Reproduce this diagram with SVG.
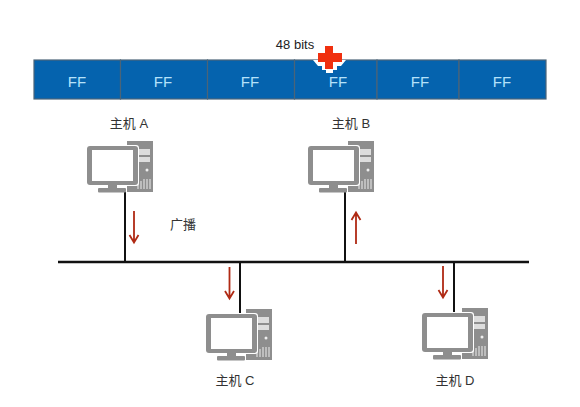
<svg xmlns="http://www.w3.org/2000/svg" width="580" height="407" viewBox="0 0 580 407">
<style>
text{font-family:"Liberation Sans","Noto Sans CJK SC",sans-serif}
.lbl{font-size:13px;fill:#333;text-anchor:middle}
.ff{font-size:15px;fill:#b5e2fa;text-anchor:middle}
.cell{fill:#0563ae;stroke:#4b6478;stroke-width:1.2}
.wire{stroke:#111;fill:none}
.arr{stroke:#b02a14;stroke-width:1.8;fill:none}
.g{fill:#8e8e8e}
</style>
<defs>
<g id="pc">
<path class="g" d="M41 0H67V51H41Z"/>
<rect x="46" y="8" width="18" height="6" fill="#ddd"/>
<rect x="46" y="16" width="18" height="5" fill="#ddd"/>
<circle cx="61" cy="29" r="1.500" fill="#eee"/>
<path d="M52 48V42M55 48V40M58 48V38M61 48V38M64 48V38" stroke="#eee" stroke-width="1"/>
<rect x="0" y="4" width="53" height="41" rx="3" fill="#fff"/>
<rect x="1" y="5" width="51" height="39" rx="3" class="g"/>
<rect x="6" y="9" width="41" height="31" fill="#fff"/>
<rect x="12" y="47" width="28" height="4.500" rx="1" class="g"/>
<rect x="22" y="44" width="9" height="3" class="g"/>
</g>
</defs>
<rect width="580" height="407" fill="#fff"/>
<g id="frame">
<rect class="cell" x="34" y="60" width="86.500" height="39"/>
<rect class="cell" x="120.500" y="60" width="87" height="39"/>
<rect class="cell" x="207.500" y="60" width="87" height="39"/>
<rect class="cell" x="294.500" y="60" width="82.500" height="39"/>
<rect class="cell" x="377" y="60" width="82" height="39"/>
<rect class="cell" x="459" y="60" width="87" height="39"/>
<text class="ff" x="77" y="86.500">FF</text>
<text class="ff" x="163" y="86.500">FF</text>
<text class="ff" x="250" y="86.500">FF</text>
<text class="ff" x="338" y="86.500">FF</text>
<text class="ff" x="420" y="86.500">FF</text>
<text class="ff" x="502" y="86.500">FF</text>
</g>
<text x="295" y="49" font-size="13" fill="#222" text-anchor="middle">48 bits</text>
<g id="plus">
<path d="M313 60H346L341 66H337V70H333V73H326V70H322V66H318Z" fill="#fff"/>
<path d="M325 46H333V53H342V62H333V69H325V62H318V53H325Z" fill="#f0300f"/>
</g>
<g id="connectors">
<path class="wire" stroke-width="2.500" d="M58 262H529"/>
<path class="wire" stroke-width="2" d="M125 192V262M240 262V313M345 192V262M454 262V313"/>
<path class="arr" d="M134 211V242M129.500 235L134 242.500L138.500 235"/>
<path class="arr" d="M229.500 267V298M225 291L229.500 298.500L234 291"/>
<path class="arr" d="M356 244V213M351.500 220L356 212.500L360.500 220"/>
<path class="arr" d="M443 266V297M438.500 290L443 297.500L447.500 290"/>
</g>
<g id="host-a"><use href="#pc" x="86" y="141"/><text class="lbl" x="129" y="128">主机 A</text></g>
<g id="host-b"><use href="#pc" x="307" y="141"/><text class="lbl" x="351" y="128">主机 B</text></g>
<g id="host-c"><use href="#pc" x="205" y="309"/><text class="lbl" x="235" y="385">主机 C</text></g>
<g id="host-d"><use href="#pc" x="421" y="308"/><text class="lbl" x="455" y="385">主机 D</text></g>
<text class="lbl" x="183" y="229">广播</text>
</svg>
